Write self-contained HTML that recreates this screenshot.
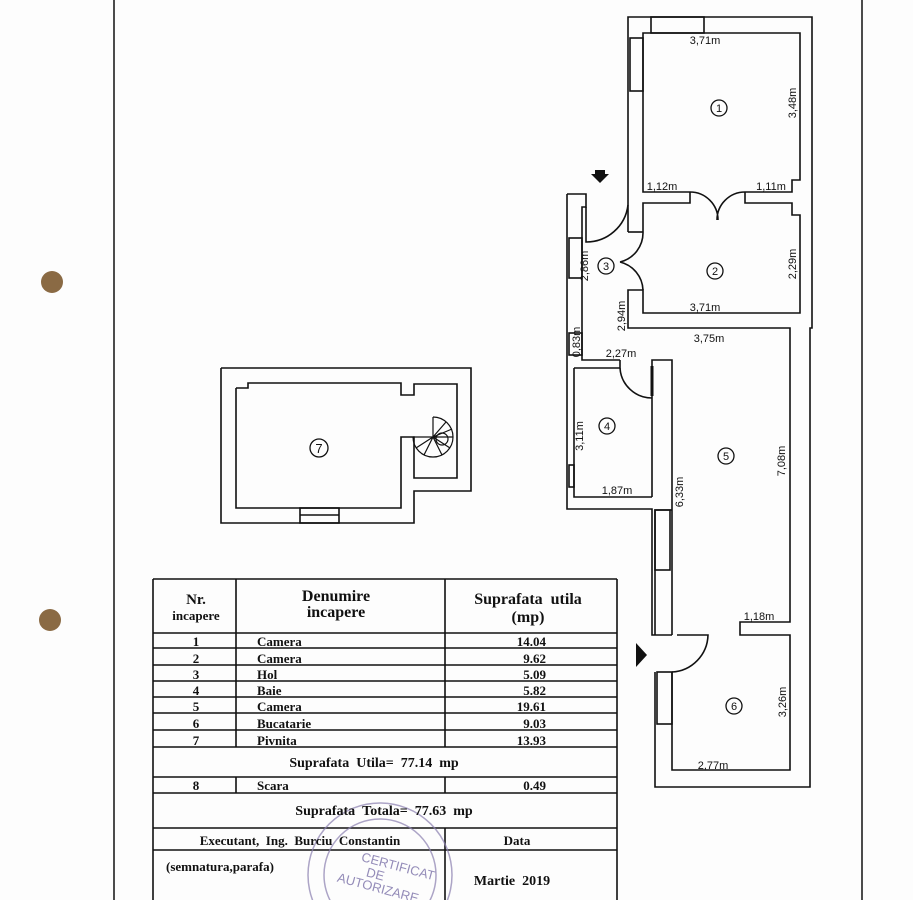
<!DOCTYPE html>
<html><head><meta charset="utf-8"><style>
html,body{margin:0;padding:0;background:#fff;overflow:hidden;width:913px;height:900px}
svg{display:block}
.t{font-family:"Liberation Serif",serif;font-weight:bold;fill:#111}
.d{font-family:"Liberation Sans",sans-serif;font-size:11px;fill:#111}
</style></head><body>
<svg width="913" height="900" viewBox="0 0 913 900" xmlns="http://www.w3.org/2000/svg">
<rect width="913" height="900" fill="#fdfdfd"/>
<line x1="114" y1="0" x2="114" y2="900" stroke="#111" stroke-width="1.5"/>
<line x1="862" y1="0" x2="862" y2="900" stroke="#111" stroke-width="1.5"/>
<ellipse cx="52" cy="282" rx="11" ry="11" fill="#8a6a44"/>
<ellipse cx="50" cy="620" rx="11" ry="11" fill="#8a6a44"/>

<g fill="none" stroke="#111" stroke-width="1.6">
<polyline points="628,194 628,17 812,17 812,328 810,328 810,787 655,787 655,672"/>
<polyline points="655,635 655,510 672,510"/>
<polyline points="567,194 567,509 652,509 652,635 672,635"/>
<polyline points="567,194 586,194 586,207 582,207 582,360 620,360"/>
<polyline points="690,192 643,192 643,33 800,33 800,180 792,180 792,192 745,192"/>
<rect x="651" y="17" width="53" height="16"/>
<rect x="630" y="38" width="13" height="53"/>
<polyline points="690,192 690,203 643,203 643,232"/>
<polyline points="745,192 745,203 792,203 792,215 800,215 800,313 643,313 643,290 628,290 628,328 790,328 790,622 740,622 740,635 790,635 790,770 672,770 672,672"/>
<line x1="628" y1="194" x2="628" y2="232"/><line x1="628" y1="232" x2="643" y2="232"/>
<path d="M690,192 A28,28 0 0 1 718,220 M745,192 A28,28 0 0 0 717,220"/>
<path d="M643,232 A30,30 0 0 1 620,262 M643,290 A30,30 0 0 0 620,262"/>
<path d="M628,205 A42,42 0 0 1 586,242 L586,207"/>
<rect x="569" y="238" width="13" height="40"/>
<rect x="569" y="333" width="13" height="22"/>
<polyline points="574,368 574,497 652,497"/>
<polyline points="574,368 620,368 620,360"/>
<path d="M620,368 A32,32 0 0 0 652,398"/>
<polyline points="652,497 652,360 672,360 672,635"/>
<rect x="569" y="465" width="5" height="22"/>
<rect x="655" y="510" width="15" height="60"/>
<line x1="652" y1="366" x2="652" y2="396" stroke-width="3"/>
<path d="M677,635 L708,635 A38,38 0 0 1 672,672"/>
<rect x="657" y="672" width="15" height="52"/>
<polyline points="221,368 471,368 471,491 414,491 414,523 221,523 221,368"/>
<polyline points="236,388 248,388 248,383 401,383 401,395 414,395 414,384 457,384 457,478 414,478 414,437 401,437 401,508 236,508 236,388"/>
<rect x="300" y="508" width="39" height="15"/>
<line x1="300" y1="515" x2="339" y2="515"/>
<line x1="153" y1="579" x2="617" y2="579"/>
<line x1="153" y1="579" x2="153" y2="900"/><line x1="617" y1="579" x2="617" y2="900"/>
<line x1="236" y1="579" x2="236" y2="747"/><line x1="445" y1="579" x2="445" y2="747"/>
<line x1="236" y1="777" x2="236" y2="793"/><line x1="445" y1="777" x2="445" y2="793"/>
<line x1="445" y1="828" x2="445" y2="900"/>
<line x1="153" y1="633" x2="617" y2="633"/>
<line x1="153" y1="648" x2="617" y2="648"/><line x1="153" y1="665" x2="617" y2="665"/>
<line x1="153" y1="681" x2="617" y2="681"/><line x1="153" y1="697" x2="617" y2="697"/>
<line x1="153" y1="713" x2="617" y2="713"/><line x1="153" y1="730" x2="617" y2="730"/>
<line x1="153" y1="747" x2="617" y2="747"/><line x1="153" y1="777" x2="617" y2="777"/>
<line x1="153" y1="793" x2="617" y2="793"/><line x1="153" y1="828" x2="617" y2="828"/>
<line x1="153" y1="850" x2="617" y2="850"/>
</g>
<g fill="none" stroke="#111" stroke-width="1.2">
<path d="M433,417 A20,20 0 0 1 453,437 A20,20 0 0 1 433,457 A20,20 0 0 1 413,437"/>
<path d="M413,437 L453,437 M433,437 L433,417 M433,437 L446,422 M433,437 L452,429 M433,437 L450,448 M433,437 L442,455 M433,437 L424,455 M433,437 L416,448"/>
<circle cx="442" cy="439" r="6"/>
</g>
<path d="M591,174 L609,174 L600,183 Z" fill="#111"/><rect x="595" y="170" width="10" height="5" fill="#111"/>
<path d="M636,643 L647,655 L636,667 Z" fill="#111"/>
<g fill="none" stroke="#111" stroke-width="1.3">
<circle cx="719" cy="108" r="8"/><circle cx="715" cy="271" r="8"/><circle cx="606" cy="266" r="8"/>
<circle cx="607" cy="426" r="8"/><circle cx="726" cy="456" r="8"/><circle cx="734" cy="706" r="8"/><circle cx="319" cy="448" r="9"/>
</g>
<g class="d" text-anchor="middle">
<text x="719" y="112">1</text><text x="715" y="275">2</text><text x="606" y="270">3</text><text x="607" y="430">4</text><text x="726" y="460">5</text><text x="734" y="710">6</text><text x="319" y="453" font-size="13">7</text>
<text x="705" y="44">3,71m</text><text x="662" y="190">1,12m</text><text x="771" y="190">1,11m</text>
<text x="705" y="311">3,71m</text><text x="709" y="342">3,75m</text><text x="621" y="357">2,27m</text>
<text x="617" y="494">1,87m</text><text x="759" y="620">1,18m</text><text x="713" y="769">2,77m</text>
<text transform="translate(796,103) rotate(-90)">3,48m</text>
<text transform="translate(796,264) rotate(-90)">2,29m</text>
<text transform="translate(588,266) rotate(-90)">2,86m</text>
<text transform="translate(625,316) rotate(-90)">2,94m</text>
<text transform="translate(580,342) rotate(-90)">0,83m</text>
<text transform="translate(583,436) rotate(-90)">3,11m</text>
<text transform="translate(683,492) rotate(-90)">6,33m</text>
<text transform="translate(785,461) rotate(-90)">7,08m</text>
<text transform="translate(786,702) rotate(-90)">3,26m</text>
</g>
<g fill="none" stroke="#8a7fb0" stroke-width="1.5" opacity="0.7"><circle cx="380" cy="875" r="72"/><circle cx="380" cy="875" r="56"/></g>
<g font-family="Liberation Sans,sans-serif" fill="#7a70a8" font-size="13" opacity="0.8">
<text x="360" y="866" transform="rotate(15 380 866)">CERTIFICAT</text>
<text x="365" y="880" transform="rotate(15 380 880)">DE</text>
<text x="335" y="893" transform="rotate(15 380 893)">AUTORIZARE</text>
</g>
<g class="t" text-anchor="middle">
<text x="196" y="604" font-size="15">Nr.</text><text x="196" y="620" font-size="13">incapere</text>
<text x="336" y="601" font-size="16">Denumire</text><text x="336" y="617" font-size="16">incapere</text>
<text x="528" y="604" font-size="16">Suprafata&#160;&#160;utila</text><text x="528" y="622" font-size="16">(mp)</text>
<g font-size="13">
<text x="196" y="646">1</text><text x="196" y="663">2</text><text x="196" y="679">3</text><text x="196" y="695">4</text><text x="196" y="711">5</text><text x="196" y="728">6</text><text x="196" y="745">7</text><text x="196" y="790">8</text>
</g>
<text x="374" y="767" font-size="14">Suprafata&#160;&#160;Utila=&#160;&#160;77.14&#160;&#160;mp</text>
<text x="384" y="815" font-size="14">Suprafata&#160;&#160;Totala=&#160;&#160;77.63&#160;&#160;mp</text>
<text x="300" y="845" font-size="13">Executant,&#160;&#160;Ing.&#160;&#160;Burciu&#160;&#160;Constantin</text>
<text x="517" y="845" font-size="13">Data</text>
<text x="512" y="885" font-size="14">Martie&#160;&#160;2019</text>
</g>
<g class="t" font-size="13">
<text x="257" y="646">Camera</text><text x="257" y="663">Camera</text><text x="257" y="679">Hol</text><text x="257" y="695">Baie</text><text x="257" y="711">Camera</text><text x="257" y="728">Bucatarie</text><text x="257" y="745">Pivnita</text><text x="257" y="790">Scara</text>
<text x="166" y="871">(semnatura,parafa)</text>
</g>
<g class="t" font-size="13" text-anchor="end">
<text x="546" y="646">14.04</text><text x="546" y="663">9.62</text><text x="546" y="679">5.09</text><text x="546" y="695">5.82</text><text x="546" y="711">19.61</text><text x="546" y="728">9.03</text><text x="546" y="745">13.93</text><text x="546" y="790">0.49</text>
</g>
</svg>
</body></html>
